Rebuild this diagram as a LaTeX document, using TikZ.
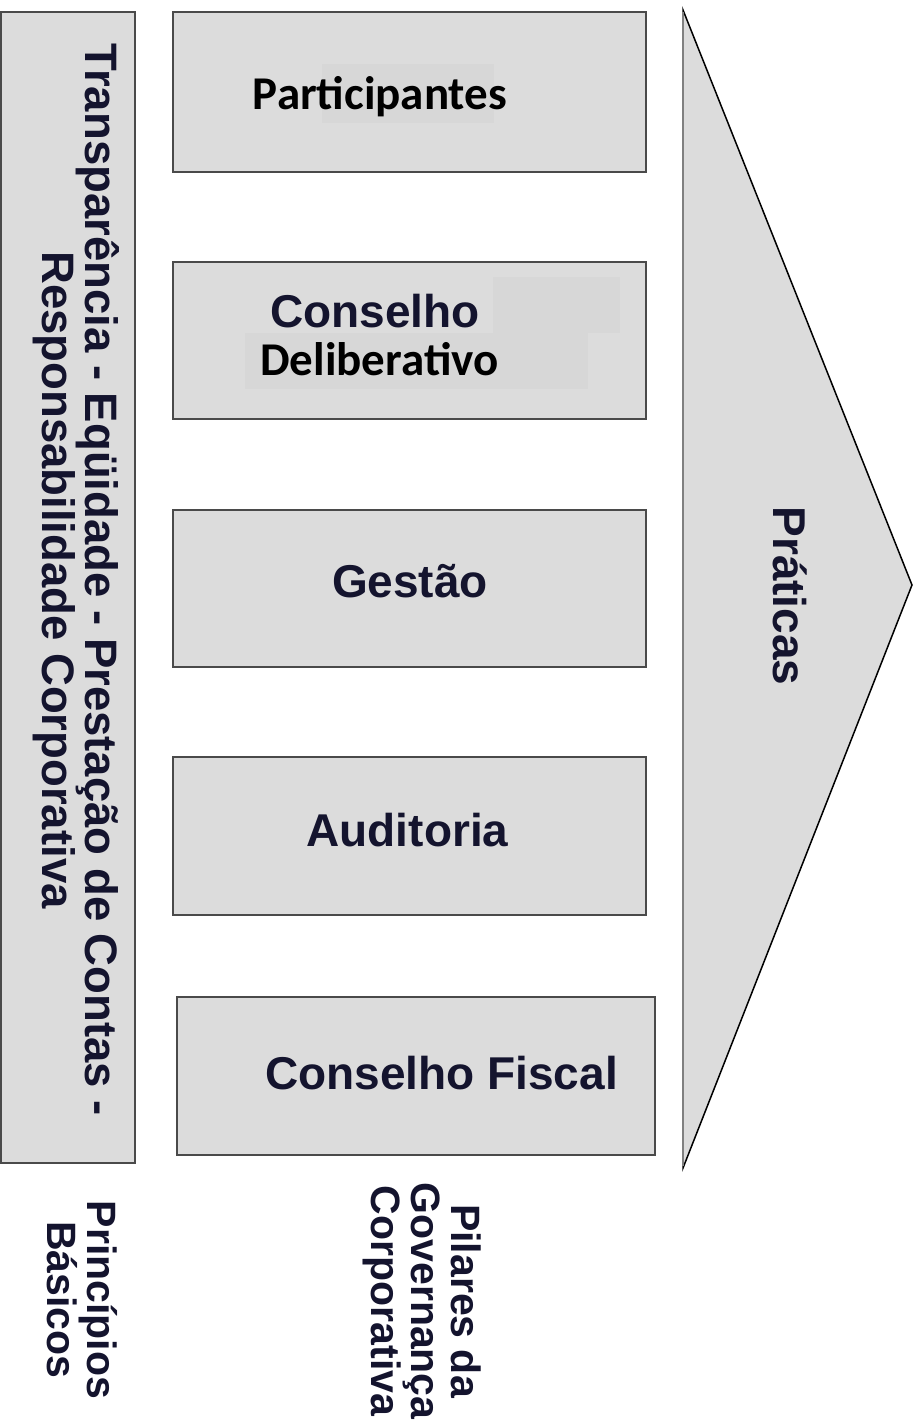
\documentclass[tikz,border=0pt]{standalone}
\usepackage{fontspec}
\setmainfont{Liberation Sans}
\newfontfamily\calib{Carlito}
\definecolor{boxfill}{HTML}{DCDCDC}
\definecolor{patchfill}{HTML}{D7D7D7}
\definecolor{boxline}{HTML}{4A4A4A}
\definecolor{navy}{HTML}{14142E}
\tikzset{
  pillar/.style={draw=boxline, fill=boxfill, line width=2pt, inner sep=0pt, outer sep=0pt},
  arial/.style={font=\fontsize{46pt}{44pt}\selectfont\bfseries, text=navy, inner sep=0pt},
  calibri/.style={font=\fontsize{47pt}{45pt}\selectfont\calib\bfseries, text=black, inner sep=0pt},
  vtext/.style={rotate=-90, align=center, text=navy, inner sep=0pt},
  patch/.style={fill=patchfill, draw=none}
}
\begin{document}
\begin{tikzpicture}[x=1pt,y=-1pt]
\useasboundingbox (0,0) rectangle (922,1425);
\fill[white] (0,0) rectangle (922,1425);
% left bar
\node[pillar, minimum width=134pt, minimum height=1151pt] (bar) at (68,587.5) {};
\node[vtext, font=\fontsize{45.5pt}{42pt}\selectfont\bfseries] (princ) at (76,580)
  {Transparência - Eqüidade - Prestação de Contas -\\Responsabilidade Corporativa};
% pillar boxes
\node[pillar, minimum width=473pt, minimum height=160pt] (b1) at (409.5,92) {};
\node[pillar, minimum width=473pt, minimum height=157pt] (b2) at (409.5,340.5) {};
\node[pillar, minimum width=473pt, minimum height=157pt] (b3) at (409.5,588.5) {};
\node[pillar, minimum width=473pt, minimum height=158pt] (b4) at (409.5,836) {};
\node[pillar, minimum width=478pt, minimum height=158pt] (b5) at (416,1076) {};
% faint patches
\fill[patch] (322,64) rectangle (494,123);
\fill[patch] (493,277) rectangle (620,333);
\fill[patch] (245,333) rectangle (588,389);
% texts
\node[calibri, anchor=base] (t1) at (380,109) {Participantes};
\node[arial, anchor=base] (t2a) at (375,327) {Conselho};
\node[calibri, anchor=base] (t2b) at (379.5,375) {Deliberativo};
\node[arial, anchor=base] (t3) at (410,597) {Gestão};
\node[arial, anchor=base] (t4) at (407.5,846) {Auditoria};
\node[arial, anchor=base] (t5) at (441.5,1089) {Conselho Fiscal};
% arrow triangle
\draw[fill=boxfill, draw=black, line width=1.5pt, line join=miter] (683,10) -- (912,585) -- (683,1168) -- cycle;
\draw[draw=gray, line width=2pt] (683,12) -- (683,1166);
\node[vtext, font=\fontsize{46pt}{44pt}\selectfont\bfseries] (prat) at (790,596) {Práticas};
% bottom labels
\node[vtext, font=\fontsize{41pt}{40pt}\selectfont\bfseries] (basic) at (82,1300) {Princípios\\Básicos};
\node[vtext, font=\fontsize{41pt}{40pt}\selectfont\bfseries] (pil) at (422,1301) {Pilares da\\Governança\\Corporativa};
\end{tikzpicture}
\end{document}
